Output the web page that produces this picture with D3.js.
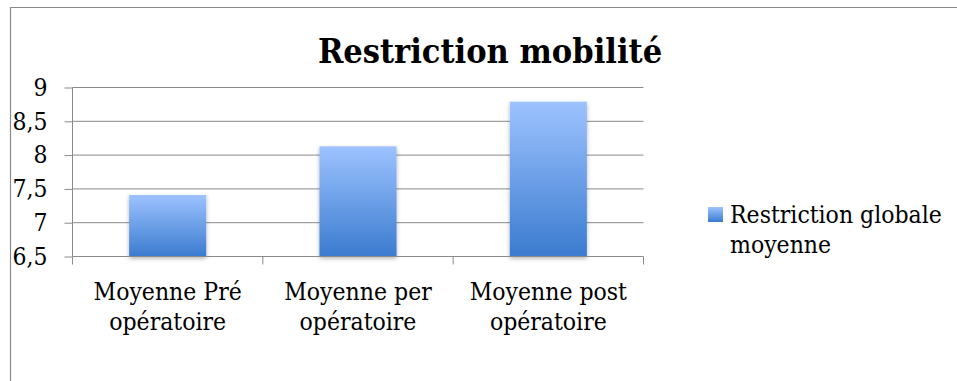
<!DOCTYPE html>
<html>
<head>
<meta charset="utf-8">
<script src="https://cdn.jsdelivr.net/npm/d3@7"></script>
<style>
  body { margin: 0; background: #fff; }
  svg text { font-family: "DejaVu Serif Condensed", "DejaVu Serif", serif; }
</style>
</head>
<body>
<div id="chart"></div>
<script>
// Restriction mobilité – bar chart

const categories = [["Moyenne Pré", "opératoire"], ["Moyenne per", "opératoire"], ["Moyenne post", "opératoire"]];
const values = [7.41, 8.13, 8.79];
const yTicks = [6.5, 7, 7.5, 8, 8.5, 9];
const seriesName = ["Restriction globale", "moyenne"];
const titleText = "Restriction mobilité";

const width = 957, height = 381;
const margin = { top: 87.5, left: 72.5, right: 957 - 643.5, bottom: 381 - 256.5 };
const w = width - margin.left - margin.right;
const h = height - margin.top - margin.bottom;

const svg = d3.select("#chart")
  .append("svg")
    .attr("width", width)
    .attr("height", height);

// gradient + shadow
const defs = svg.append("defs");
const grad = defs.append("linearGradient")
  .attr("id", "barGrad")
  .attr("x1", 0).attr("y1", 0).attr("x2", 0).attr("y2", 1);
grad.append("stop").attr("offset", "0%").attr("stop-color", "#9dc3ff");
grad.append("stop").attr("offset", "100%").attr("stop-color", "#3b7bcf");

const shadow = defs.append("filter").attr("id", "shadow")
  .attr("x", "-20%").attr("y", "-20%").attr("width", "140%").attr("height", "140%");
shadow.append("feDropShadow")
  .attr("dx", 0).attr("dy", 2).attr("stdDeviation", 2)
  .attr("flood-color", "#000").attr("flood-opacity", 0.3);

// frame (top and left edges visible)
svg.append("path")
  .attr("d", `M10.5,${height} V7.5 H${width}`)
  .attr("fill", "none")
  .attr("stroke", "#8a8a8a")
  .attr("stroke-width", 1.2);

const g = svg.append("g")
  .attr("transform", `translate(${margin.left},${margin.top})`);

const x = d3.scaleBand()
  .domain(d3.range(categories.length))
  .range([0, w])
  .paddingInner(0.595)
  .paddingOuter(0.2975);

const y = d3.scaleLinear()
  .domain([6.5, 9])
  .range([h, 0]);

// gridlines
g.append("g")
  .selectAll("line")
  .data(yTicks.filter(d => d > 6.5))
  .join("line")
    .attr("x1", 0).attr("x2", w)
    .attr("y1", d => y(d)).attr("y2", d => y(d))
    .attr("stroke", "#8a8a8a")
    .attr("stroke-width", 1);

// bars
g.selectAll("rect.bar")
  .data(values)
  .join("rect")
    .attr("class", "bar")
    .attr("x", (d, i) => x(i))
    .attr("y", d => y(d))
    .attr("width", x.bandwidth())
    .attr("height", d => h - y(d))
    .attr("fill", "url(#barGrad)")
    .attr("filter", "url(#shadow)");

// y axis
const yAxis = g.append("g")
  .call(d3.axisLeft(y).tickValues(yTicks).tickSize(8).tickPadding(17)
    .tickFormat(d => String(d).replace(".", ",")));
yAxis.attr("font-family", null).attr("font-size", null);
yAxis.select(".domain").attr("stroke", "#8a8a8a").attr("d", `M0,0V${h}`);
yAxis.selectAll(".tick line").attr("stroke", "#8a8a8a");
yAxis.selectAll(".tick text")
  .attr("fill", "#000")
  .style("font-size", "24.5px");

// x axis
const step = w / categories.length;
const xEdges = d3.range(categories.length + 1).map(i => i * step);
g.append("line")
  .attr("x1", 0).attr("x2", w).attr("y1", h).attr("y2", h)
  .attr("stroke", "#8a8a8a");
g.append("g")
  .selectAll("line")
  .data(xEdges)
  .join("line")
    .attr("x1", d => d).attr("x2", d => d)
    .attr("y1", h).attr("y2", h + 8)
    .attr("stroke", "#8a8a8a");

const labels = g.append("g")
  .selectAll("text")
  .data(categories)
  .join("text")
    .attr("text-anchor", "middle")
    .attr("x", (d, i) => x(i) + x.bandwidth() / 2)
    .attr("y", h + 43)
    .style("font-size", "24.5px");
labels.selectAll("tspan")
  .data(d => d)
  .join("tspan")
    .attr("x", function () { return this.parentNode.getAttribute("x"); })
    .attr("dy", (d, i) => i === 0 ? 0 : 30)
    .text(d => d);

// title
svg.append("text")
  .attr("x", 490)
  .attr("y", 63)
  .attr("text-anchor", "middle")
  .style("font-size", "34px")
  .style("font-weight", "bold")
  .text(titleText);

// legend
svg.append("rect")
  .attr("x", 708).attr("y", 207)
  .attr("width", 15).attr("height", 15)
  .attr("fill", "url(#barGrad)");
const leg = svg.append("text")
  .attr("x", 730).attr("y", 223)
  .style("font-size", "24.5px");
leg.selectAll("tspan")
  .data(seriesName)
  .join("tspan")
    .attr("x", 730)
    .attr("dy", (d, i) => i === 0 ? 0 : 30)
    .text(d => d);
</script>
</body>
</html>
